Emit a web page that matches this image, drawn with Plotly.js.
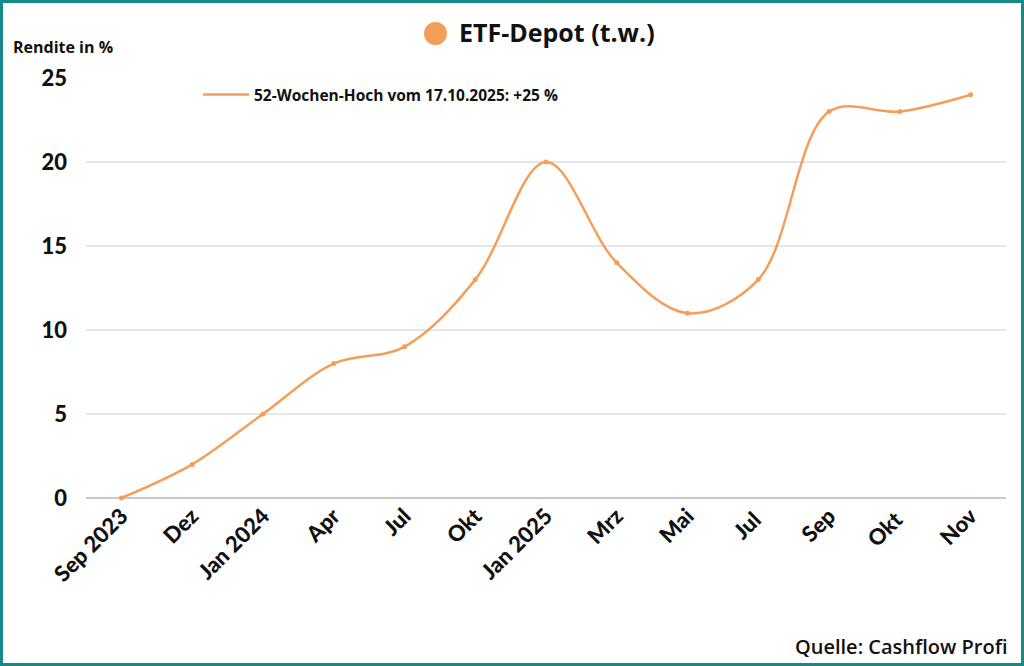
<!DOCTYPE html>
<html><head><meta charset="utf-8">
<script src="https://cdn.plot.ly/plotly-3.0.1.min.js"></script>
<style>
html,body{margin:0;padding:0;background:#fff;}
#chart{width:1024px;height:666px;box-sizing:border-box;border:3px solid #168A88;}
</style></head><body>
<div id="chart"></div>
<script>
const categories = ["Sep 2023","Dez","Jan 2024","Apr","Jul","Okt","Jan 2025","Mrz","Mai","Jul ","Sep","Okt ","Nov"];
const rendite = [0,2,5,8,9,13,20,14,11,13,23,23,24];
const yTicks = [0,5,10,15,20,25];
const seriesName = "52-Wochen-Hoch vom 17.10.2025: +25 %";
const orange = "#F59E5C";
const W = 1018, H = 660, L = 83, R = 15, T = 75, B = 165;
const pw = W - L - R, ph = H - T - B;
const lineTrace = {
  x: categories, y: rendite, type: "scatter", mode: "lines",
  name: seriesName,
  line: {color: orange, width: 2.5, shape: "spline", smoothing: 1},
  cliponaxis: false
};
const markerTrace = {
  x: categories, y: rendite, type: "scatter", mode: "markers",
  showlegend: false, marker: {color: orange, size: 5}, cliponaxis: false
};
const layout = {
  width: W, height: H,
  margin: {l: L, r: R, t: T, b: B},
  paper_bgcolor: "#fff", plot_bgcolor: "#fff",
  font: {family: "Lato, 'Open Sans', sans-serif", color: "#111"},
  title: {text: "ETF-Depot (t.w.)", x: (459 - 3) / W, xanchor: "left", y: 1 - (33 - 3) / H, yanchor: "middle",
          font: {family: "'Open Sans', sans-serif", size: 25, weight: 700, color: "#111"}},
  showlegend: true,
  legend: {x: (198 - 3 - L) / pw, xanchor: "left", y: 1 - (95 - 78) / ph, yanchor: "middle", itemwidth: 46,
           bgcolor: "rgba(0,0,0,0)", font: {family: "'Open Sans', sans-serif", size: 15.5, weight: 700, color: "#111"}},
  xaxis: {
    type: "category", range: [-0.5, 12.5], showgrid: false, zeroline: false, showline: false,
    ticks: "", tickangle: -45, tickfont: {family: "Lato, sans-serif", size: 22, weight: 900, color: "#111"},
    automargin: false
  },
  yaxis: {
    range: [0, 25], tickvals: yTicks, ticktext: yTicks.map(String), showgrid: true, gridcolor: "#E6E6E6", gridwidth: 1.5,
    zeroline: true, zerolinecolor: "#C8C8C8", zerolinewidth: 1.5, showline: false, ticks: "",
    ticklabelstandoff: 18,
    tickfont: {family: "Lato, sans-serif", size: 22, weight: 900, color: "#111"}, automargin: false
  },
  shapes: [{type: "circle", xref: "paper", yref: "paper",
    x0: (424 - 3 - L) / pw, x1: (447 - 3 - L) / pw,
    y0: (H - B - (45 - 3)) / ph, y1: (H - B - (22 - 3)) / ph,
    fillcolor: orange, line: {width: 0}}],
  annotations: [
    {text: "Rendite in %", xref: "paper", yref: "paper", x: (11 - 3 - L) / pw, xanchor: "left",
     y: (H - B - (47 - 3)) / ph, yanchor: "middle", showarrow: false,
     font: {family: "'Open Sans', sans-serif", size: 16, weight: 700, color: "#111"}},
    {text: "Quelle: Cashflow Profi", xref: "paper", yref: "paper", x: (1010 - 3 - L) / pw, xanchor: "right",
     y: (H - B - (646 - 3)) / ph, yanchor: "middle", showarrow: false,
     font: {family: "'Open Sans', sans-serif", size: 20, weight: 600, color: "#111"}}
  ]
};
Plotly.newPlot("chart", [lineTrace, markerTrace], layout, {displayModeBar: false, staticPlot: true});
</script></body></html>
